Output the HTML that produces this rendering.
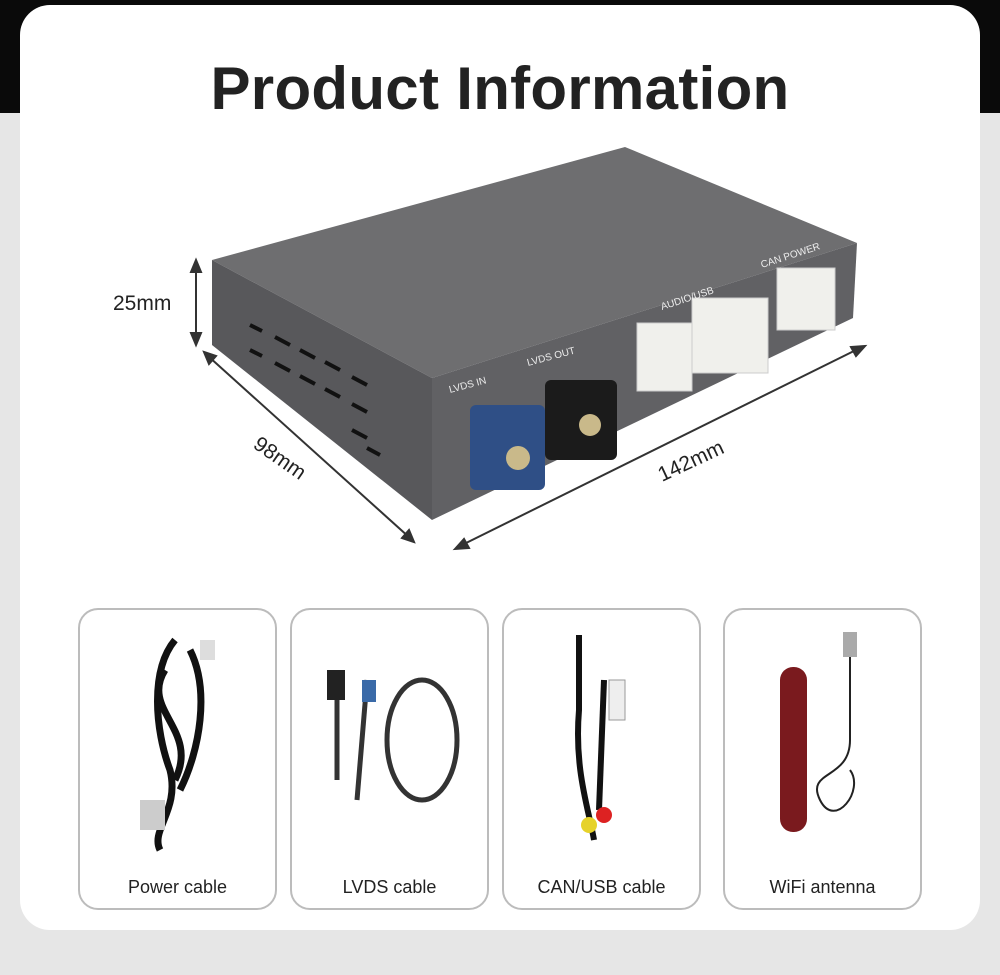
<!DOCTYPE html><html><head><style>
body{margin:0;width:1000px;height:975px;background:#e6e6e6;position:relative;overflow:hidden;font-family:"Liberation Sans",sans-serif}
.top{position:absolute;left:0;top:0;width:1000px;height:113px;background:#0a0a0a}
.card{position:absolute;left:20px;top:5px;width:960px;height:925px;background:#fff;border-radius:30px}
h1{position:absolute;left:0;width:1000px;top:54px;margin:0;text-align:center;font-size:60px;font-weight:bold;color:#222;letter-spacing:0.3px}
.t{position:absolute;top:608px;width:195px;height:298px;border:2px solid #bcbcbc;border-radius:20px;background:#fff}
.t span{position:absolute;bottom:10px;left:0;width:100%;text-align:center;font-size:18px;color:#222}
</style></head><body>
<div class="top"></div><div class="card"></div>
<h1>Product Information</h1>
<svg width="1000" height="975" style="position:absolute;left:0;top:0">
<polygon points="212,260 625,147 857,243 432,378" fill="#6e6e70"/>
<polygon points="432,378 857,243 853,318 432,520" fill="#616164"/>
<polygon points="212,260 432,378 432,520 212,345" fill="#58585b"/>
<g stroke="#111" stroke-width="4">
<line x1="250" y1="325" x2="262" y2="331"/><line x1="275" y1="337" x2="290" y2="345"/><line x1="300" y1="350" x2="315" y2="358"/><line x1="325" y1="362" x2="340" y2="370"/><line x1="352" y1="377" x2="367" y2="385"/>
<line x1="250" y1="350" x2="262" y2="356"/><line x1="275" y1="363" x2="290" y2="371"/><line x1="300" y1="376" x2="315" y2="384"/><line x1="325" y1="389" x2="340" y2="397"/><line x1="352" y1="404" x2="367" y2="412"/>
<line x1="352" y1="430" x2="367" y2="438"/><line x1="367" y1="448" x2="380" y2="455"/></g>
<rect x="470" y="405" width="75" height="85" rx="6" fill="#2f4f86"/><circle cx="518" cy="458" r="12" fill="#c9b98a"/>
<rect x="545" y="380" width="72" height="80" rx="6" fill="#1b1b1b"/><circle cx="590" cy="425" r="11" fill="#c9b98a"/>
<rect x="637" y="323" width="55" height="68" fill="#f0f0ec" stroke="#ccc"/>
<rect x="692" y="298" width="76" height="75" fill="#f0f0ec" stroke="#ccc"/>
<rect x="777" y="268" width="58" height="62" fill="#f0f0ec" stroke="#ccc"/>
<g fill="#eee" font-size="10"><text x="450" y="393" transform="rotate(-15 450 393)">LVDS IN</text><text x="528" y="366" transform="rotate(-15 528 366)">LVDS OUT</text><text x="662" y="310" transform="rotate(-18 662 310)">AUDIO/USB</text><text x="762" y="268" transform="rotate(-18 762 268)">CAN POWER</text></g>
<g stroke="#333" stroke-width="2" fill="#333">
<line x1="196" y1="265" x2="196" y2="340"/><polygon points="196,260 191,272 201,272"/><polygon points="196,345 191,333 201,333"/>
<line x1="208" y1="356" x2="410" y2="538"/><polygon points="204,352 216,356 209,364"/><polygon points="414,542 402,538 409,530"/>
<line x1="460" y1="546" x2="860" y2="348"/><polygon points="455,549 464,539 469,548"/><polygon points="865,346 851,347 856,356"/></g>
<g fill="#222" font-size="21" font-family="Liberation Sans"><text x="113" y="310">25mm</text><text x="252" y="447" transform="rotate(35 252 447)">98mm</text><text x="662" y="482" transform="rotate(-25 662 482)">142mm</text></g>
</svg>
<div class="t" style="left:78px"><svg width="195" height="250"><g fill="none" stroke="#111" stroke-width="7"><path d="M95 30 C70 60 75 120 90 160 C100 200 70 220 80 240"/><path d="M110 40 C130 80 120 140 100 180"/><path d="M85 60 C60 100 120 120 95 170"/></g><rect x="60" y="190" width="25" height="30" fill="#ccc"/><rect x="120" y="30" width="15" height="20" fill="#ddd"/></svg><span>Power cable</span></div>
<div class="t" style="left:290px"><svg width="195" height="250"><g fill="none" stroke="#333" stroke-width="5"><ellipse cx="130" cy="130" rx="35" ry="60"/><path d="M45 80 L45 170"/><path d="M75 70 L65 190"/></g><rect x="35" y="60" width="18" height="30" fill="#222"/><rect x="70" y="70" width="14" height="22" fill="#3a6aa8"/></svg><span>LVDS cable</span></div>
<div class="t" style="left:502px"><svg width="195" height="250"><g fill="none" stroke="#111" stroke-width="6"><path d="M75 25 L75 100 C70 160 85 200 90 230"/><path d="M100 70 L95 200"/></g><rect x="105" y="70" width="16" height="40" fill="#eee" stroke="#999"/><circle cx="85" cy="215" r="8" fill="#e6d22a"/><circle cx="100" cy="205" r="8" fill="#d22"/></svg><span>CAN/USB cable</span></div>
<div class="t" style="left:723px"><svg width="195" height="250"><rect x="55" y="57" width="27" height="165" rx="13" fill="#7a1a1e"/><path d="M125 30 L125 130 C125 170 80 160 95 190 C110 220 140 180 125 160" fill="none" stroke="#222" stroke-width="2"/><rect x="118" y="22" width="14" height="25" fill="#aaa"/></svg><span>WiFi antenna</span></div>
</body></html>
